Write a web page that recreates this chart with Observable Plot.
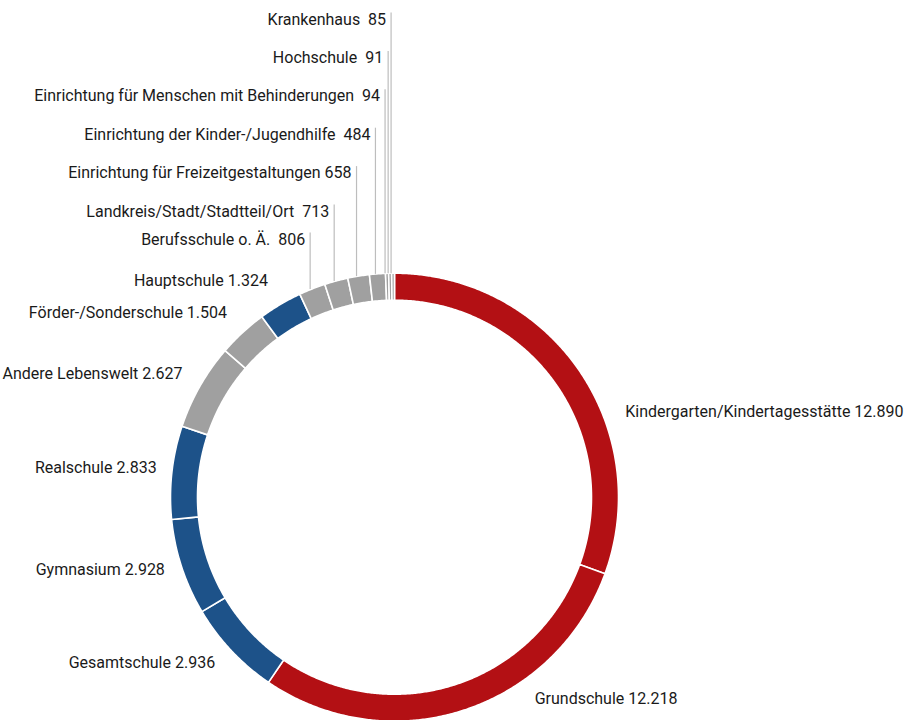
<!DOCTYPE html>
<html>
<head>
<meta charset="utf-8">
<script src="https://cdn.jsdelivr.net/npm/d3@7"></script>
<script src="https://cdn.jsdelivr.net/npm/@observablehq/plot@0.6"></script>
<style>
  html, body { margin: 0; padding: 0; background: #fff; }
  #chart svg { display: block; }
</style>
</head>
<body>
<div id="chart"></div>
<script>
// ---- Data ----
const categories = [
  "Kindergarten/Kindertagesstätte",
  "Grundschule",
  "Gesamtschule",
  "Gymnasium",
  "Realschule",
  "Andere Lebenswelt",
  "Förder-/Sonderschule",
  "Hauptschule",
  "Berufsschule o. Ä.",
  "Landkreis/Stadt/Stadtteil/Ort",
  "Einrichtung für Freizeitgestaltungen",
  "Einrichtung der Kinder-/Jugendhilfe",
  "Einrichtung für Menschen mit Behinderungen",
  "Hochschule",
  "Krankenhaus"
];
const values = [12890, 12218, 2936, 2928, 2833, 2627, 1504, 1324, 806, 713, 658, 484, 94, 91, 85];
const groups = [
  "Kita/Grundschule", "Kita/Grundschule",
  "Weiterführende Schule", "Weiterführende Schule", "Weiterführende Schule",
  "Sonstige", "Sonstige",
  "Weiterführende Schule",
  "Sonstige", "Sonstige", "Sonstige", "Sonstige", "Sonstige", "Sonstige", "Sonstige"
];
const groupNames = ["Kita/Grundschule", "Weiterführende Schule", "Sonstige"];
const groupColors = ["#b31014", "#1d5289", "#a0a0a0"];

// ---- Layout ----
const W = 904, H = 720;
const cx = 394, cy = 496.7;
const R = 224, R0 = 197;
const font = "Roboto, 'Noto Sans', sans-serif";
const fs = 16;

const de = d3.formatLocale({decimal: ",", thousands: ".", grouping: [3], currency: ["", "€"]});
const fmt = de.format(",d");

const total = d3.sum(values);
let acc = 0;
const segs = categories.map((c, i) => {
  const a0 = acc / total * 360;
  acc += values[i];
  const a1 = acc / total * 360;
  return {i, name: c, value: values[i], group: groups[i], a0, a1, mid: (a0 + a1) / 2};
});
const rad = a => a * Math.PI / 180;
const px = (r, a) => r * Math.sin(rad(a));
const py = (r, a) => -r * Math.cos(rad(a));

// ring polygons
const ring = [];
for (const s of segs) {
  const n = Math.max(2, Math.ceil((s.a1 - s.a0) / 0.4));
  for (let k = 0; k <= n; k++) {
    const a = s.a0 + (s.a1 - s.a0) * k / n;
    ring.push({key: s.name, group: s.group, x: px(R, a), y: py(R, a)});
  }
  for (let k = n; k >= 0; k--) {
    const a = s.a0 + (s.a1 - s.a0) * k / n;
    ring.push({key: s.name, group: s.group, x: px(R0, a), y: py(R0, a)});
  }
}

// labels
const big = segs.filter(s => s.value >= 1000);
const small = segs.filter(s => s.value < 1000);

const rightLabels = big.filter(s => s.mid < 180).map(s => {
  const a = 105 + (s.mid - 105) * 0.705;
  return {text: s.name + " " + fmt(s.value), x: px(246, a), y: py(246, a)};
});
const leftLabels = big.filter(s => s.mid >= 180).map(s => {
  const r = 238 + 12 * Math.abs(Math.cos(rad(s.mid)));
  return {text: s.name + " " + fmt(s.value), x: px(r, s.mid), y: py(r, s.mid) - 3};
});

const smallLabels = small.map((s, k) => {
  const ly = (k === 0 ? 239 : 211 - (k - 1) * 38.4) - cy;
  const lx = px(R, s.mid) - 2;
  return {
    text: s.name + (s.name.startsWith("Einrichtung für F") ? " " : "\u00a0 ") + fmt(s.value),
    x1: lx, y1: py(R, s.mid), x2: lx, y2: ly - 7,
    tx: lx - 5, ty: ly
  };
});

const chart = Plot.plot({
  width: W,
  height: H,
  margin: 0,
  x: {type: "linear", domain: [-cx, W - cx], range: [0, W], axis: null},
  y: {type: "linear", domain: [-cy, H - cy], range: [0, H], axis: null},
  color: {domain: groupNames, range: groupColors},
  style: {fontFamily: font, background: "#fff"},
  marks: [
    Plot.line(ring, {
      x: "x", y: "y", z: "key", fill: "group",
      stroke: "white", strokeWidth: 1.6, curve: "linear-closed"
    }),
    Plot.link(smallLabels, {
      x1: "x1", y1: "y1", x2: "x2", y2: "y2",
      stroke: "#bdbdbd", strokeWidth: 1.2
    }),
    Plot.text(smallLabels, {
      x: "tx", y: "ty", text: "text", textAnchor: "end",
      fill: "#1a1a1a", fontSize: fs
    }),
    Plot.text(leftLabels, {
      x: "x", y: "y", text: "text", textAnchor: "end",
      fill: "#1a1a1a", fontSize: fs
    }),
    Plot.text(rightLabels, {
      x: "x", y: "y", text: "text", textAnchor: "start",
      fill: "#1a1a1a", fontSize: fs
    })
  ]
});
document.getElementById("chart").appendChild(chart);
</script>
</body>
</html>
